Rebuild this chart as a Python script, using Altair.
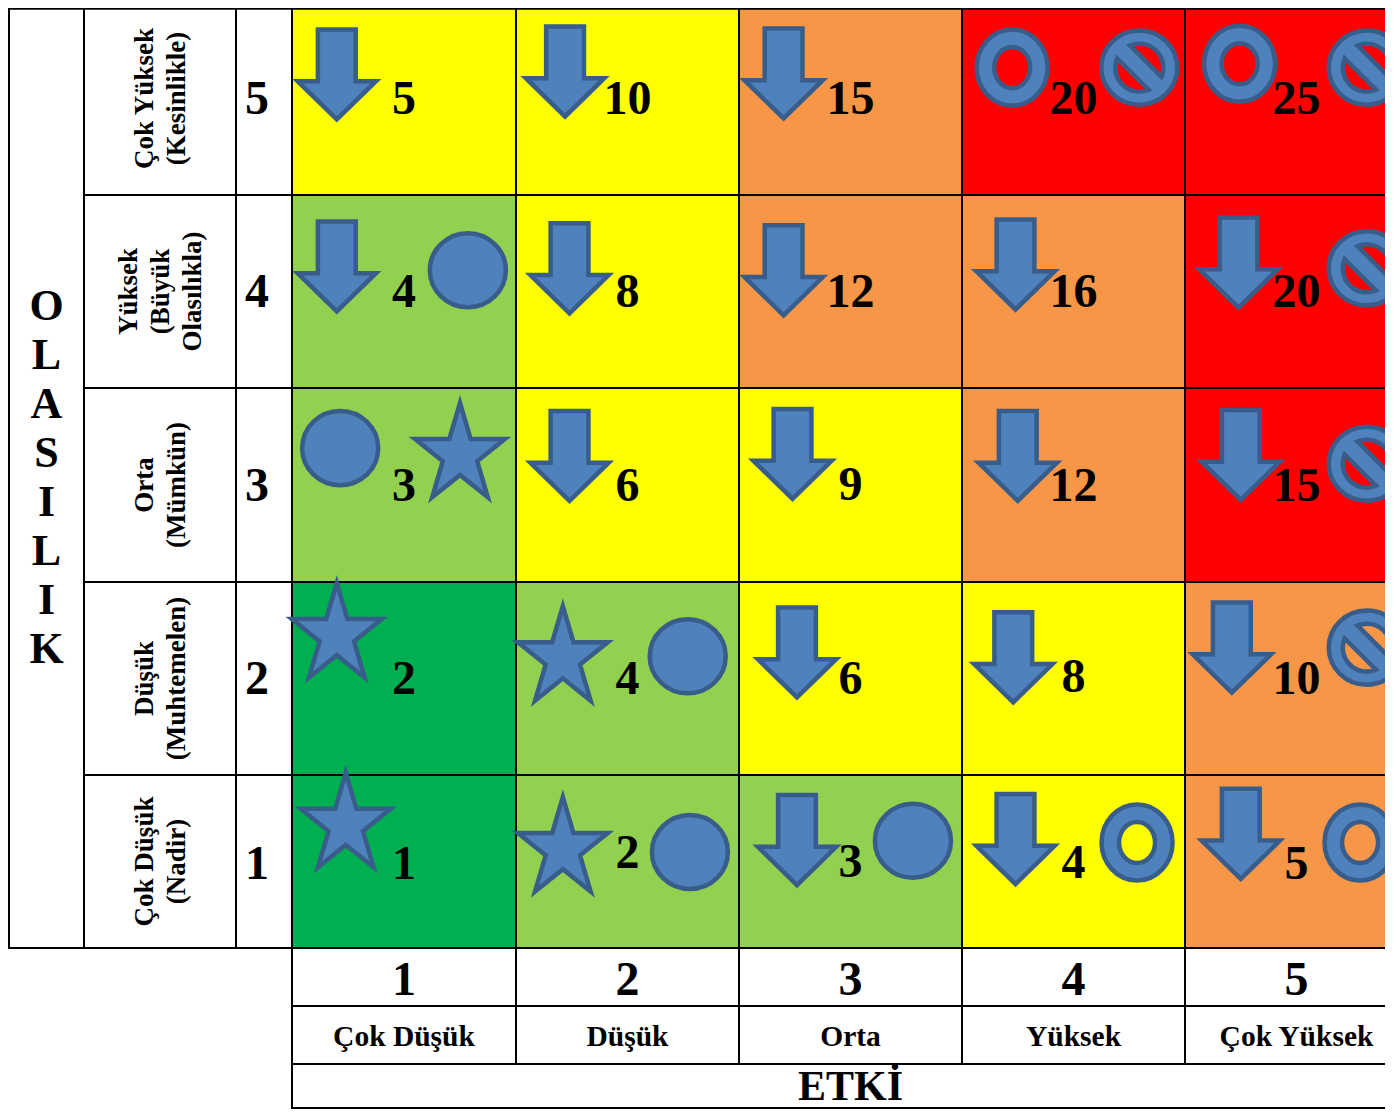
import altair as alt
import pandas as pd

# ---- risk matrix: impact 1-5 across, likelihood 5-1 down
impacts = [1, 2, 3, 4, 5]
likelihoods = [5, 4, 3, 2, 1]
grades = [
    ["Y", "Y", "O", "R", "R"],
    ["L", "Y", "O", "O", "R"],
    ["L", "Y", "Y", "O", "R"],
    ["D", "L", "Y", "Y", "O"],
    ["D", "L", "L", "Y", "O"],
]
grade_keys = ["D", "L", "Y", "O", "R"]
grade_colors = ["#00B050", "#92D050", "#FFFF00", "#F79646", "#FF0000"]

# score labels as (impact position, likelihood position, text)
score_x = [1, 2, 3, 4, 5] * 5
score_y = [5, 5, 5, 5, 5, 4, 4, 4, 4, 4, 3, 3, 3.005, 3, 3, 2, 2, 2, 2.01, 2, 0.99, 1.05, 1.0, 0.995, 0.99]
score_t = ["5", "10", "15", "20", "25", "4", "8", "12", "16", "20", "3", "6", "9", "12", "15",
           "2", "4", "6", "8", "10", "1", "2", "3", "4", "5"]

likelihood_names = ["Çok Yüksek\n(Kesinlikle)", "Yüksek\n(Büyük\nOlasılıkla)", "Orta\n(Mümkün)",
                    "Düşük\n(Muhtemelen)", "Çok Düşük\n(Nadir)"]
likelihood_name_x = [-1.099, -1.204, -1.099, -1.099, -1.099]
impact_names = ["Çok Düşük", "Düşük", "Orta", "Yüksek", "Çok Yüksek"]

# symbol positions, in impact / likelihood units
arrow_x = [0.70, 1.72, 2.70, 0.70, 1.74, 2.70, 3.74, 4.74, 1.74, 2.74, 3.75, 4.75, 2.76, 3.73, 4.71, 2.76, 3.74, 4.75]
arrow_y = [5.125, 5.14, 5.13, 4.13, 4.12, 4.11, 4.14, 4.15, 3.15, 3.16, 3.15, 3.155, 2.135, 2.11, 2.16, 1.124, 1.13, 1.16]
disc_x = [1.285, 0.715, 2.27, 2.28, 3.28]
disc_y = [4.11, 3.19, 2.115, 1.055, 1.12]
star_x = [1.25, 0.70, 0.74, 1.71, 1.71]
star_y = [3.18, 2.25, 1.24, 2.13, 1.10]
ring_x = [3.725, 4.745, 4.285, 5.285]
ring_y = [5.16, 5.18, 1.11, 1.11]
ban_x = [4.295, 5.315, 5.315, 5.315, 5.315]
ban_y = [5.16, 5.16, 4.12, 3.11, 2.16]

# piecewise position scales: wide label columns and the short lower rows
x_scale = alt.Scale(domain=[-2.5, -1.5, -0.5, 0.5, 1.5, 2.5, 3.5, 4.5, 5.5],
                    range=[1, 76, 228, 284, 508, 731, 954, 1177, 1400], nice=False, zero=False)
y_scale = alt.Scale(domain=[5.5, 4.5, 3.5, 2.5, 1.5, 0.5, -0.5, -1.5, -2.5],
                    range=[-6, 187, 380, 574, 767, 940, 998, 1056, 1109], nice=False, zero=False)

FONT = "Liberation Serif"
FILL = "#4F81BD"
EDGE = "#385D8A"


def X(name, **kw):
    return alt.X(name, type="quantitative", scale=x_scale, axis=None, **kw)


def Y(name, **kw):
    return alt.Y(name, type="quantitative", scale=y_scale, axis=None, **kw)


# ---- cells
cell_rows = []
for r, row in zip(likelihoods, grades):
    for c, g in zip(impacts, row):
        cell_rows.append({"x": c - .5, "x2": c + .5, "y": r - .5, "y2": r + .5, "g": g})
cells = alt.Chart(pd.DataFrame(cell_rows)).mark_rect(stroke="black", strokeWidth=2).encode(
    x=X("x"), x2="x2", y=Y("y"), y2="y2",
    color=alt.Color("g:N", scale=alt.Scale(domain=grade_keys, range=grade_colors), legend=None),
)

frame_rows = [{"x": -2.5, "x2": -1.5, "y": 0.5, "y2": 5.5}]
for r in likelihoods:
    frame_rows.append({"x": -1.5, "x2": -0.5, "y": r - .5, "y2": r + .5})
    frame_rows.append({"x": -0.5, "x2": 0.5, "y": r - .5, "y2": r + .5})
for c in impacts:
    frame_rows.append({"x": c - .5, "x2": c + .5, "y": -0.5, "y2": 0.5})
    frame_rows.append({"x": c - .5, "x2": c + .5, "y": -1.5, "y2": -0.5})
frame_rows.append({"x": 0.5, "x2": 5.5, "y": -2.5, "y2": -1.5})
frames = alt.Chart(pd.DataFrame(frame_rows)).mark_rect(fill="white", stroke="black", strokeWidth=2).encode(
    x=X("x"), x2="x2", y=Y("y"), y2="y2")

top_edge = alt.Chart(pd.DataFrame({"x": [-2.5], "x2": [5.5], "y": [5.465]})).mark_rule(
    color="black", strokeWidth=2).encode(x=X("x"), x2="x2", y=Y("y"))
bottom_edge = alt.Chart(pd.DataFrame({"x": [0.5], "x2": [5.5], "y": [-2.33]})).mark_rule(
    color="black", strokeWidth=2).encode(x=X("x"), x2="x2", y=Y("y"))


# ---- symbols
def ell(rx, ry, sweep):
    return (f"M{-rx},0 A{rx},{ry} 0 1 {sweep} {rx},0 A{rx},{ry} 0 1 {sweep} {-rx},0 Z")


ARROW = "M-.42,-1 L.42,-1 L.42,.15 L.87,.15 L0,1 L-.87,.15 L-.42,.15 Z"
STAR = ("M0,-1.05 L.236,-.248 L1,-.248 L.382,.248 L.618,1.05 L0,.554 "
        "L-.618,1.05 L-.382,.248 L-1,-.248 L-.236,-.248 Z")
DISC = ell(1, .975, 1)
RING = ell(.934, 1, 1) + " " + ell(.474, .54, 0)
BAN = (ell(1, .974, 1) + " M.582,.242 A.63,.63 0 0 0 -.242,-.582 Z"
       " M-.582,-.242 A.63,.63 0 0 0 .242,.582 Z")


def symbols(xs, ys, path, side):
    return alt.Chart(pd.DataFrame({"x": xs, "y": ys})).mark_point(
        shape=path, size=side ** 2, filled=True, fill=FILL, stroke=EDGE,
        strokeWidth=4.5, opacity=1,
    ).encode(x=X("x"), y=Y("y"))


syms = [
    symbols(arrow_x, arrow_y, ARROW, 90),
    symbols(disc_x, disc_y, DISC, 76),
    symbols(star_x, star_y, STAR, 90),
    symbols(ring_x, ring_y, RING, 76),
    symbols(ban_x, ban_y, BAN, 76),
]


# ---- text
def texts(xs, ys, ts, size, **kw):
    return alt.Chart(pd.DataFrame({"x": xs, "y": ys, "t": ts})).mark_text(
        font=FONT, fontWeight="bold", fontSize=size, color="black", baseline="middle",
        align="center", lineBreak="\n", **kw,
    ).encode(x=X("x"), y=Y("y"), text="t:N")


labels = [
    texts(score_x, score_y, score_t, 48, dy=1.5),
    texts([-0.125] * 5, [5, 4, 3, 2, 0.99], ["5", "4", "3", "2", "1"], 48, dy=1.5),
    texts([1, 2, 3, 4, 5], [-0.03] * 5, ["1", "2", "3", "4", "5"], 48, dy=2),
    texts(impacts, [-1.0] * 5, impact_names, 29.5, dy=2),
    texts([3], [-1.934], ["ETKİ"], 42),
    texts(likelihood_name_x, likelihoods, likelihood_names, 27, angle=270, lineHeight=32),
    texts([-2.0], [3.927], ["O\nL\nA\nS\nI\nL\nI\nK"], 44, lineHeight=49, dy=1.5),
]

chart = alt.layer(frames, cells, top_edge, bottom_edge, *syms, *labels).properties(
    width=1377, height=1101, padding=0, background="white",
    autosize=alt.AutoSizeParams(type="none", contains="padding"),
).configure_view(stroke=None)

chart.save("out.html", embed_options={"renderer": "svg", "actions": False})
